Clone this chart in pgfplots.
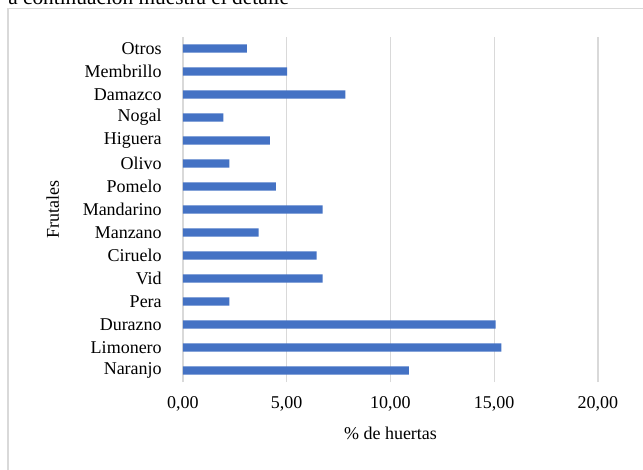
\documentclass[border=0pt]{standalone}
\usepackage{pgfplots}
\pgfplotsset{compat=1.18}
\usepackage{fontspec}
\setmainfont{Liberation Serif}
\definecolor{barblue}{HTML}{4472C4}
\definecolor{gridgray}{HTML}{D9D9D9}
\begin{document}
\begin{tikzpicture}
\useasboundingbox (-137.25pt,-65.25pt) rectangle (345pt,286.5pt);
\clip (-137.25pt,-65.25pt) rectangle (345pt,286.5pt);
\draw[gridgray, line width=1pt] (-131.25pt,-90pt) rectangle (370pt,280.1pt);
\node[anchor=base west, inner sep=0pt, font=\fontsize{16}{19}\selectfont] at (-131.25pt,283.5pt) {a continuación muestra el detalle};
\begin{axis}[
  at={(0,0)}, anchor=south west,
  scale only axis,
  width=311.25pt, height=258.75pt,
  xbar, bar width=6.2pt,
  xmin=0, xmax=20, ymin=0.5, ymax=15.5,
  axis line style={draw=none},
  major tick length=0pt,
  xmajorgrids, grid style={gridgray, line width=1pt},
  xtick={0,5,10,15,20},
  ytick={1,...,15},
  yticklabels={Naranjo,Limonero,Durazno,Pera,Vid,Ciruelo,Manzano,Mandarino,Pomelo,Olivo,Higuera,Nogal,Damazco,Membrillo,Otros},
  /pgf/number format/assume math mode=true,
  xticklabel={\pgfmathprintnumber[fixed,fixed zerofill,precision=2,use comma]{\tick}},
  ticklabel style={font=\fontsize{13.5}{16}\selectfont},
  xticklabel style={yshift=-7.5pt},
  yticklabel style={inner sep=0pt, xshift=-15.75pt},
  xlabel={\% de huertas},
  ylabel={Frutales},
  label style={font=\fontsize{13.5}{16}\selectfont},
  xlabel style={at={(rel axis cs:0.5,-0.1304)}, anchor=north, inner sep=0pt},
  ylabel style={at={(rel axis cs:-0.3301,0.5)}, anchor=north, inner sep=0pt},
]
\addplot[fill=barblue, draw=none] coordinates {
(10.89,1) (15.34,2) (15.07,3) (2.23,4) (6.73,5) (6.44,6) (3.65,7) (6.73,8)
(4.48,9) (2.23,10) (4.19,11) (1.94,12) (7.82,13) (5.02,14) (3.08,15)};
\end{axis}
\end{tikzpicture}
\end{document}
